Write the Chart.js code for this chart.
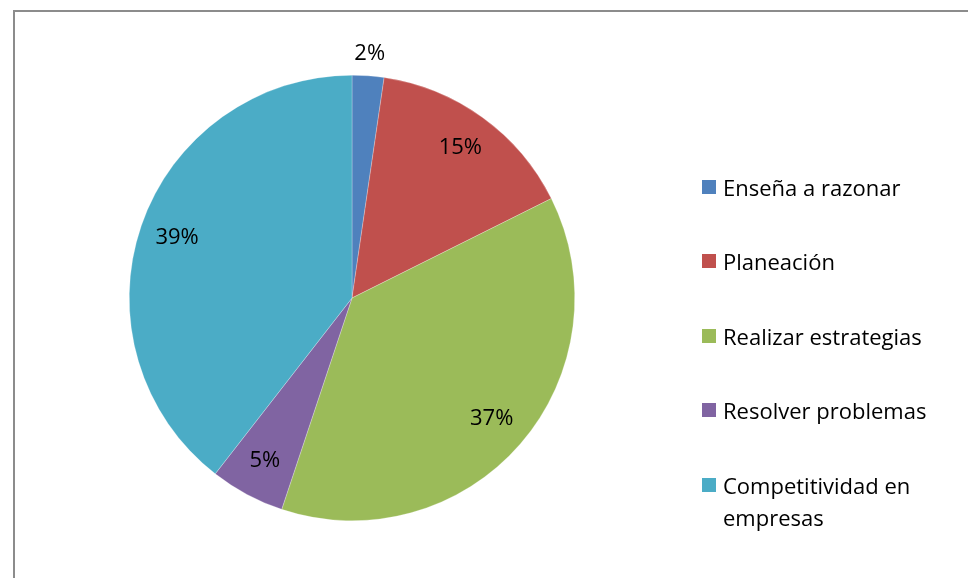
<!DOCTYPE html>
<html>
<head>
<meta charset="utf-8">
<script src="https://cdn.jsdelivr.net/npm/chart.js@4/dist/chart.umd.min.js"></script>
<style>
  html, body { margin: 0; padding: 0; background: #fff; }
  #wrap { position: relative; width: 968px; height: 578px; overflow: hidden; }
  #frame { position: absolute; left: 13px; top: 10px; width: 1000px; height: 600px; border: 2px solid #8c8c8c; box-sizing: border-box; }
  canvas { position: absolute; left: 0; top: 0; }
  #legend { position: absolute; left: 0; top: 0; font-family: "Open Sans", sans-serif; font-size: 22px; color: #000; }
  .item { position: absolute; left: 702px; line-height: 32px; padding-left: 21px; white-space: nowrap; }
  .box { position: absolute; left: 0; top: 9px; width: 14px; height: 14px; }
</style>
</head>
<body>
<div id="wrap">
  <div id="frame"></div>
  <canvas id="c" width="968" height="578"></canvas>
  <div id="legend"></div>
</div>
<script>
const categories = ['Enseña a razonar', 'Planeación', 'Realizar estrategias', 'Resolver problemas', ['Competitividad en', 'empresas']]
const values = [2.3, 15.3, 37.4, 5.4, 39.4]
const colors = ['#4F81BD', '#C0504D', '#9BBB59', '#8064A2', '#4BACC6']

const pctLabels = {
    id: 'pctLabels',
    afterDatasetsDraw(chart) {
        const ctx = chart.ctx
        const data = chart.data.datasets[0].data
        const total = data.reduce((a, b) => a + b, 0)
        ctx.save()
        ctx.font = '22px "Open Sans", sans-serif'
        ctx.fillStyle = '#000'
        ctx.textAlign = 'center'
        ctx.textBaseline = 'middle'
        chart.getDatasetMeta(0).data.forEach((arc, i) => {
            const mid = (arc.startAngle + arc.endAngle) / 2
            const share = data[i] / total
            // tiny slices get their label outside, like Excel does
            const r = share < 0.03 ? arc.outerRadius + 22 : arc.outerRadius * 0.83
            const x = arc.x + Math.cos(mid) * r
            const y = arc.y + Math.sin(mid) * r
            ctx.fillText(Math.round(share * 100) + '%', x, y)
        })
        ctx.restore()
    }
}

const chart = new Chart(document.getElementById('c').getContext('2d'), {
    type: 'pie',
    data: {
        labels: categories,
        datasets: [{
            data: values,
            backgroundColor: colors,
            borderColor: 'rgba(255,255,255,0.5)',
            borderWidth: 0.5
        }]
    },
    options: {
        responsive: false,
        animation: false,
        layout: { padding: { left: 129, right: 393, top: 75, bottom: 57 } },
        plugins: {
            legend: { display: false },
            tooltip: { enabled: false }
        }
    },
    plugins: [pctLabels]
})

// legend on the right, built from the same arrays
const legend = document.getElementById('legend')
categories.forEach((label, i) => {
    const item = document.createElement('div')
    item.className = 'item'
    item.style.top = (186.5 + i * 74.5 - 16) + 'px'
    const box = document.createElement('span')
    box.className = 'box'
    box.style.background = colors[i]
    item.appendChild(box)
    const text = document.createElement('span')
    text.innerHTML = [].concat(label).join('<br>')
    item.appendChild(text)
    legend.appendChild(item)
})
</script>
</body>
</html>
